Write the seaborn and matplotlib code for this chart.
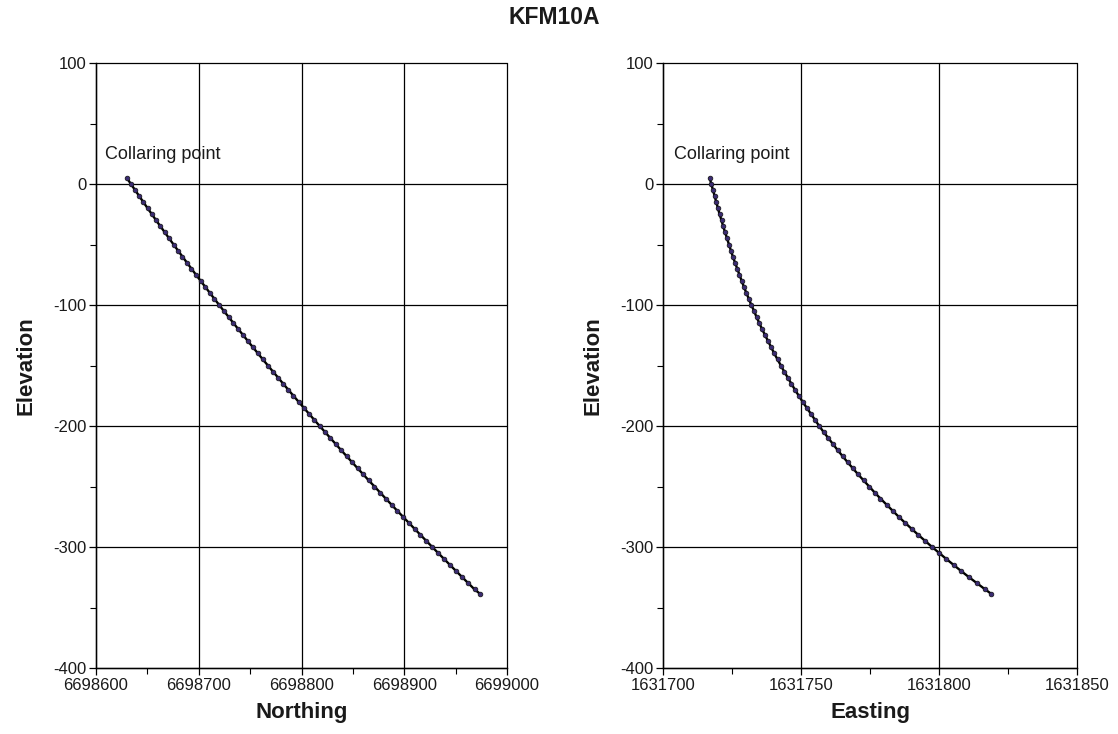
import matplotlib
matplotlib.use("Agg")
import matplotlib.pyplot as plt
from matplotlib.ticker import MultipleLocator
import seaborn as sns
import pandas as pd

# ---- data ----
elevation = [5, 0, -5, -10, -15, -20, -25, -30, -35, -40, -45, -50, -55, -60, -65, -70,
             -75, -80, -85, -90, -95, -100, -105, -110, -115, -120, -125, -130, -135,
             -140, -145, -150, -155, -160, -165, -170, -175, -180, -185, -190, -195,
             -200, -205, -210, -215, -220, -225, -230, -235, -240, -245, -250, -255,
             -260, -265, -270, -275, -280, -285, -290, -295, -300, -305, -310, -315,
             -320, -325, -330, -335, -338.5]

northing = [6698630.0, 6698634.0, 6698638.0, 6698642.1, 6698646.1, 6698650.2, 6698654.4,
            6698658.5, 6698662.7, 6698667.0, 6698671.2, 6698675.5, 6698679.8, 6698684.1,
            6698688.5, 6698692.9, 6698697.3, 6698701.8, 6698706.3, 6698710.8, 6698715.3,
            6698719.9, 6698724.5, 6698729.2, 6698733.8, 6698738.5, 6698743.3, 6698748.0,
            6698752.8, 6698757.6, 6698762.4, 6698767.3, 6698772.2, 6698777.2, 6698782.1,
            6698787.1, 6698792.1, 6698797.2, 6698802.3, 6698807.4, 6698812.5, 6698817.7,
            6698822.9, 6698828.1, 6698833.4, 6698838.6, 6698844.0, 6698849.3, 6698854.7,
            6698860.1, 6698865.5, 6698871.0, 6698876.5, 6698882.0, 6698887.6, 6698893.1,
            6698898.8, 6698904.4, 6698910.1, 6698915.8, 6698921.5, 6698927.3, 6698933.0,
            6698938.9, 6698944.7, 6698950.6, 6698956.5, 6698962.4, 6698968.4, 6698973.5]

easting = [1631716.9, 1631717.5, 1631718.1, 1631718.7, 1631719.3, 1631719.9, 1631720.5,
           1631721.2, 1631721.8, 1631722.5, 1631723.2, 1631723.9, 1631724.6, 1631725.3,
           1631726.1, 1631726.9, 1631727.7, 1631728.5, 1631729.3, 1631730.2, 1631731.1,
           1631732.0, 1631733.0, 1631733.9, 1631734.9, 1631735.9, 1631737.0, 1631738.1,
           1631739.2, 1631740.3, 1631741.5, 1631742.7, 1631743.9, 1631745.2, 1631746.5,
           1631747.8, 1631749.2, 1631750.6, 1631752.1, 1631753.6, 1631755.1, 1631756.6,
           1631758.2, 1631759.9, 1631761.6, 1631763.3, 1631765.1, 1631766.9, 1631768.8,
           1631770.7, 1631772.7, 1631774.7, 1631776.7, 1631778.8, 1631781.0, 1631783.2,
           1631785.4, 1631787.7, 1631790.1, 1631792.5, 1631795.0, 1631797.5, 1631800.1,
           1631802.7, 1631805.4, 1631808.1, 1631810.9, 1631813.8, 1631816.7, 1631818.8]

title = "KFM10A"
annotation = "Collaring point"
ylabel = "Elevation"
xlabels = ["Northing", "Easting"]

# ---- style ----
sns.set_theme(style="white")
plt.rcParams["font.family"] = ["Liberation Sans", "DejaVu Sans"]
plt.rcParams["axes.unicode_minus"] = False

df = pd.DataFrame({"Elevation": elevation, "Northing": northing, "Easting": easting})

fig = plt.figure(figsize=(11.18, 7.34), dpi=100)
ax1 = fig.add_axes([96 / 1118, 1 - 668 / 734, (507 - 96) / 1118, (668 - 63) / 734])
ax2 = fig.add_axes([663 / 1118, 1 - 668 / 734, (1077 - 663) / 1118, (668 - 63) / 734])

txt_color = "#1a1a1a"
panels = [
    (ax1, xlabels[0], (6698600, 6699000), 100, 50, 6698609),
    (ax2, xlabels[1], (1631700, 1631850), 50, 25, 1631704),
]

for ax, col, xlim, xmaj, xmin, annx in panels:
    sns.lineplot(data=df, x=col, y="Elevation", ax=ax, sort=False, estimator=None,
                 color="black", linewidth=1.7, marker="o", markersize=3.4,
                 markerfacecolor="#3b2c72", markeredgecolor="#111111",
                 markeredgewidth=0.5, zorder=5)
    ax.set_xlim(*xlim)
    ax.set_ylim(-400, 100)
    ax.xaxis.set_major_locator(MultipleLocator(xmaj))
    ax.xaxis.set_minor_locator(MultipleLocator(xmin))
    ax.yaxis.set_major_locator(MultipleLocator(100))
    ax.yaxis.set_minor_locator(MultipleLocator(50))
    ax.grid(True, which="major", color="black", linewidth=0.9, clip_on=False)
    ax.set_axisbelow(True)
    for s in ["top", "right"]:
        ax.spines[s].set_visible(False)
    for s in ["left", "bottom"]:
        ax.spines[s].set_color("black")
        ax.spines[s].set_linewidth(1.0)
    ax.tick_params(which="major", direction="out", length=5, width=0.9,
                   colors="black", labelcolor=txt_color, labelsize=12,
                   left=True, bottom=True, pad=2)
    ax.tick_params(which="minor", direction="out", length=4, width=0.8,
                   colors="black", left=True, bottom=True)
    ax.ticklabel_format(useOffset=False, style="plain")
    ax.set_xlabel(col, fontsize=16, fontweight="bold", color=txt_color, labelpad=7)
    ax.set_ylabel(ylabel, fontsize=16, fontweight="bold", color=txt_color, labelpad=12)
    ax.text(annx, 20.5, annotation, fontsize=13, color=txt_color,
            ha="left", va="baseline")

fig.suptitle(title, x=0.496, y=1 - 18 / 734, va="center", fontsize=16.5,
             fontweight="bold", color=txt_color)

fig.savefig("out.png", dpi=100, facecolor="white")
